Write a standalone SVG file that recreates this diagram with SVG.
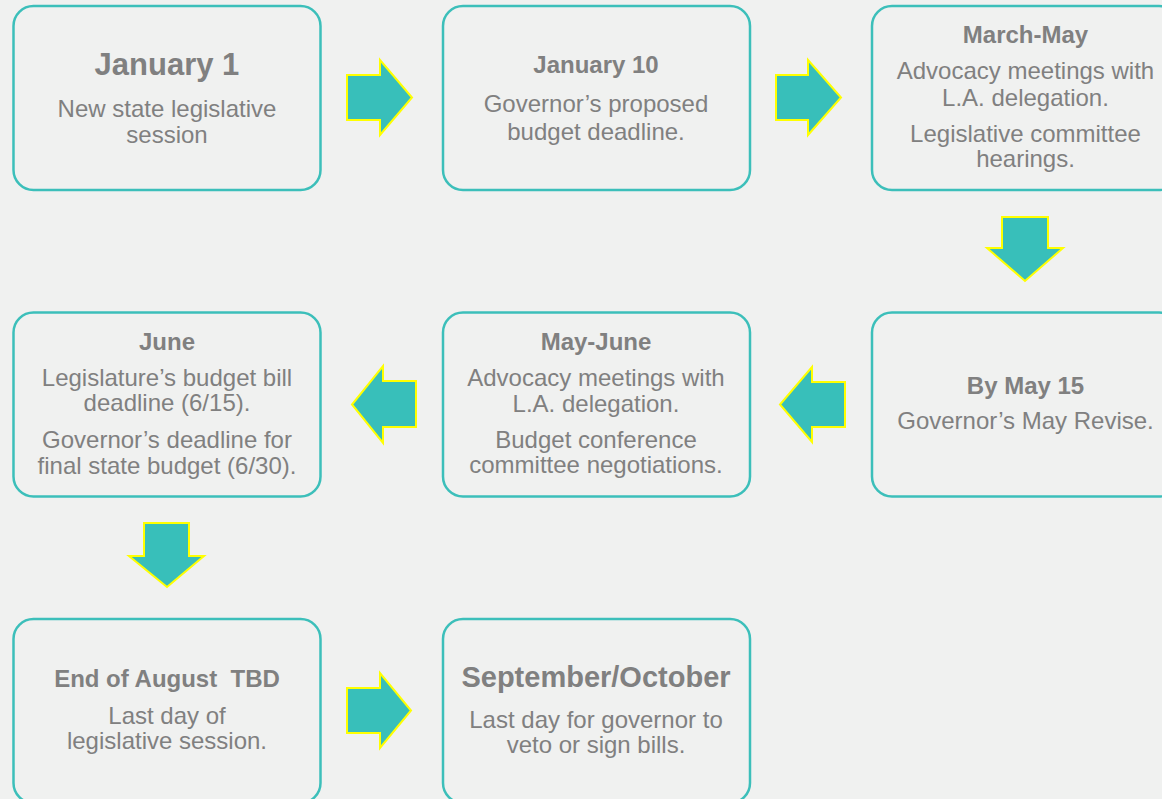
<svg xmlns="http://www.w3.org/2000/svg" width="1162" height="799" viewBox="0 0 1162 799">
  <style>
    .box { fill: #f0f1f0; stroke: #3cbfba; stroke-width: 2.5; }
    .arrow { fill: #38bfba; stroke: #ffff00; stroke-width: 2; stroke-linejoin: miter; }
    text { font-family: "Liberation Sans", Arial, sans-serif; fill: #808080; text-anchor: middle; }
    .t { font-weight: bold; font-size: 24px; }
    .big { font-weight: bold; font-size: 31px; }
    .b { font-size: 24px; }
  </style>
  <rect width="1162" height="799" fill="#f0f1f0"/>

  <!-- Row 1 -->
  <g id="jan1">
    <rect class="box" x="13.5" y="6" width="307" height="184" rx="20"/>
    <text class="big" x="167" y="75">January 1</text>
    <text class="b" x="167" y="117">New state legislative</text>
    <text class="b" x="167" y="143">session</text>
  </g>
  <g id="jan10">
    <rect class="box" x="443" y="6" width="307" height="184" rx="20"/>
    <text class="t" x="596" y="73">January 10</text>
    <text class="b" x="596" y="112">Governor’s proposed</text>
    <text class="b" x="596" y="140">budget deadline.</text>
  </g>
  <g id="march-may">
    <rect class="box" x="872" y="6" width="307" height="184" rx="20"/>
    <text class="t" x="1025.5" y="43">March-May</text>
    <text class="b" x="1025.5" y="79">Advocacy meetings with</text>
    <text class="b" x="1025.5" y="106">L.A. delegation.</text>
    <text class="b" x="1025.5" y="142">Legislative committee</text>
    <text class="b" x="1025.5" y="167">hearings.</text>
  </g>

  <!-- Row 2 -->
  <g id="june">
    <rect class="box" x="13.5" y="312.5" width="307" height="184" rx="20"/>
    <text class="t" x="167" y="350">June</text>
    <text class="b" x="167" y="386">Legislature’s budget bill</text>
    <text class="b" x="167" y="411">deadline (6/15).</text>
    <text class="b" x="167" y="448">Governor’s deadline for</text>
    <text class="b" x="167" y="474">final state budget (6/30).</text>
  </g>
  <g id="may-june">
    <rect class="box" x="443" y="312.5" width="307" height="184" rx="20"/>
    <text class="t" x="596" y="350">May-June</text>
    <text class="b" x="596" y="386">Advocacy meetings with</text>
    <text class="b" x="596" y="412">L.A. delegation.</text>
    <text class="b" x="596" y="448">Budget conference</text>
    <text class="b" x="596" y="473">committee negotiations.</text>
  </g>
  <g id="may15">
    <rect class="box" x="872" y="312.5" width="307" height="184" rx="20"/>
    <text class="t" x="1025.5" y="394">By May 15</text>
    <text class="b" x="1025.5" y="429">Governor’s May Revise.</text>
  </g>

  <!-- Row 3 -->
  <g id="end-august">
    <rect class="box" x="13.5" y="619" width="307" height="184" rx="20"/>
    <text class="t" x="167" y="687" xml:space="preserve">End of August  TBD</text>
    <text class="b" x="167" y="724">Last day of</text>
    <text class="b" x="167" y="749">legislative session.</text>
  </g>
  <g id="sep-oct">
    <rect class="box" x="443" y="619" width="307" height="184" rx="20"/>
    <text class="big" x="596" y="687" style="font-size:29px">September/October</text>
    <text class="b" x="596" y="728">Last day for governor to</text>
    <text class="b" x="596" y="753">veto or sign bills.</text>
  </g>

  <!-- Block arrows between steps -->
  <g id="connectors">
    <polygon class="arrow" points="347,75 380,75 380,60 412,97.5 380,135 380,120 347,120"/>
    <polygon class="arrow" points="776,75 808,75 808,60 841,97.5 808,135 808,120 776,120"/>
    <polygon class="arrow" points="1002,217 1048,217 1048,248 1063,248 1025,281 987,248 1002,248"/>
    <polygon class="arrow" points="845,382 812,382 812,367 780,404.5 812,442 812,427 845,427"/>
    <polygon class="arrow" points="416,381 383,381 383,366 352,404.5 383,443 383,427 416,427"/>
    <polygon class="arrow" points="144,523 189,523 189,556 204,556 167,587 129,556 144,556"/>
    <polygon class="arrow" points="347,688 380,688 380,673 411,710.5 380,748 380,733 347,733"/>
  </g>
</svg>
